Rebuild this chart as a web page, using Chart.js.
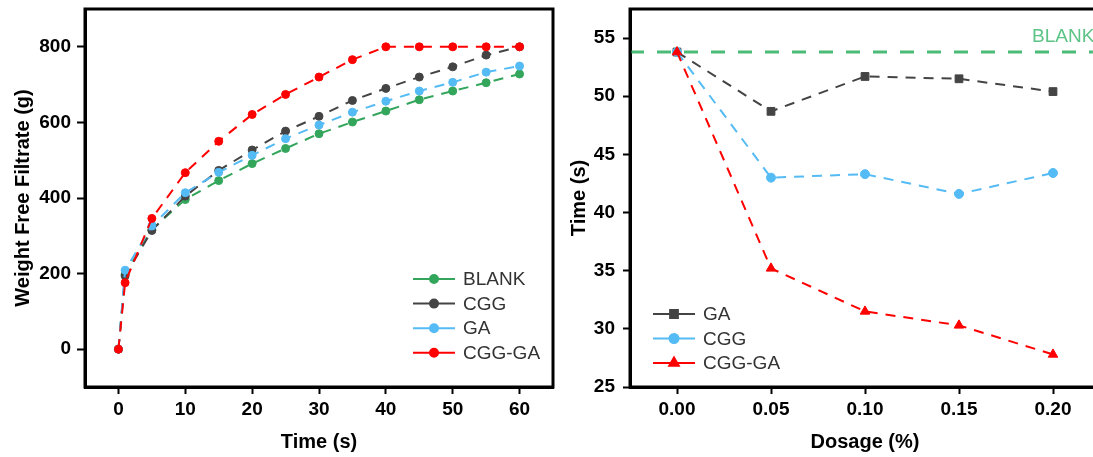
<!DOCTYPE html>
<html lang="en">
<head>
<meta charset="UTF-8">
<title>Filtration charts</title>
<script src="https://cdn.jsdelivr.net/npm/chart.js"></script>
<style>
  html, body { margin: 0; padding: 0; background: #fff; overflow: hidden; }
  #wrap { position: relative; width: 1093px; height: 457px; overflow: hidden; }
  .box { position: absolute; top: 0; height: 457px; }
  #leftBox { left: 0; width: 565px; }
  #rightBox { left: 565px; width: 545px; }
</style>
</head>
<body>
<div id="wrap">
  <div class="box" id="leftBox"><canvas id="filtrateChart"></canvas></div>
  <div class="box" id="rightBox"><canvas id="timeChart"></canvas></div>
</div>
<script>
// left panel: filtrate mass vs time
const timeS = [0, 1, 5, 10, 15, 20, 25, 30, 35, 40, 45, 50, 55, 60];
const blankMass = [0, 198, 317, 396, 446, 491, 531, 570, 601, 630, 660, 683, 705, 728];
const cggMass = [0, 194, 314, 405, 473, 527, 577, 616, 658, 690, 720, 747, 778, 800];
const gaMass = [0, 209, 326, 414, 468, 513, 557, 593, 627, 656, 683, 706, 733, 749];
const cggGaMass = [0, 176, 346, 467, 550, 621, 674, 720, 766, 800, 800, 800, 800, 800];
const massTicks = [0, 200, 400, 600, 800];
const timeTicks = [0, 10, 20, 30, 40, 50, 60];

// right panel: filtration time vs dosage
const dosage = [0, 0.05, 0.10, 0.15, 0.20];
const gaTime = [53.8, 48.7, 51.7, 51.5, 50.4];
const cggTime = [53.8, 43.0, 43.3, 41.6, 43.4];
const cggGaTime = [53.8, 35.2, 31.5, 30.3, 27.8];
const blankTime = 53.8;
const timeAxisTicks = [25, 30, 35, 40, 45, 50, 55];
const dosageTicks = [0, 0.05, 0.10, 0.15, 0.20];

const FONT = '"Liberation Sans", Arial, sans-serif';
const tickFont = { family: FONT, size: 19, weight: 'bold' };
const titleFont = { family: FONT, size: 20, weight: 'bold' };

function pairs(xs, ys) {
  return xs.map((x, i) => ({ x: x, y: ys[i] }));
}

// thick black frame round the plot area
const framePlugin = {
  id: 'frame',
  afterDraw(chart) {
    const a = chart.chartArea, ctx = chart.ctx;
    ctx.save();
    ctx.strokeStyle = '#000';
    ctx.lineWidth = 3;
    ctx.strokeRect(a.left, a.top, a.right - a.left, a.bottom - a.top);
    ctx.restore();
  }
};

// legend drawn inside the plot area, Origin style
const innerLegend = {
  id: 'innerLegend',
  afterDatasetsDraw(chart, args, opts) {
    const ctx = chart.ctx;
    ctx.save();
    chart.data.datasets.forEach((ds, i) => {
      const y = opts.y + i * opts.gap;
      ctx.setLineDash([]);
      ctx.strokeStyle = ds.borderColor;
      ctx.lineWidth = 2;
      ctx.beginPath();
      ctx.moveTo(opts.x, y);
      ctx.lineTo(opts.x + 42, y);
      ctx.stroke();
      ctx.fillStyle = ds.borderColor;
      Chart.helpers.drawPoint(ctx, {
        pointStyle: ds.pointStyle, rotation: 0,
        radius: ds.pointRadius, borderWidth: 1
      }, opts.x + 21, y);
      ctx.fillStyle = '#333';
      ctx.font = '19px ' + FONT;
      ctx.textBaseline = 'middle';
      ctx.textAlign = 'left';
      ctx.fillText(ds.label, opts.x + 50, y + 1);
    });
    ctx.restore();
  }
};

// horizontal reference line for the blank sample
const blankLine = {
  id: 'blankLine',
  beforeDatasetsDraw(chart) {
    const a = chart.chartArea, ctx = chart.ctx;
    const y = chart.scales.y.getPixelForValue(blankTime);
    ctx.save();
    ctx.strokeStyle = '#4cbb78';
    ctx.lineWidth = 3;
    ctx.setLineDash([14, 13]);
    ctx.beginPath();
    ctx.moveTo(a.left, y);
    ctx.lineTo(a.right, y);
    ctx.stroke();
    ctx.fillStyle = '#5cc486';
    ctx.font = '19px ' + FONT;
    ctx.textBaseline = 'alphabetic';
    ctx.fillText('BLANK', a.right - 68, y - 10);
    ctx.restore();
  }
};

function axis(min, max, ticks, fmt, size, title, tickLen, pad, titlePad, horizontal) {
  return {
    type: 'linear', min: min, max: max,
    afterBuildTicks: s => { s.ticks = ticks.map(v => ({ value: v })); },
    afterFit: s => {
      if (horizontal) {
        s.height = size;
        s.paddingLeft = 0; s.paddingRight = 0;
      } else {
        s.width = size;
        s.paddingTop = 0; s.paddingBottom = 0;
      }
    },
    grid: { drawOnChartArea: false, tickLength: tickLen, tickWidth: 2, tickColor: '#000' },
    border: { color: '#000', width: 3 },
    ticks: { color: '#000', font: tickFont, padding: pad, maxRotation: 0, callback: fmt },
    title: { display: true, text: title, color: '#000', font: titleFont, padding: titlePad }
  };
}

function line(label, color, data, style, radius, dash, order) {
  return {
    label: label, data: data, borderColor: color, backgroundColor: color,
    borderWidth: 2, borderDash: dash, pointStyle: style, pointRadius: radius,
    pointBorderWidth: 1, pointBorderColor: color, tension: 0, order: order
  };
}

new Chart(document.getElementById('filtrateChart'), {
  type: 'line',
  data: {
    datasets: [
      line('BLANK', '#33a65c', pairs(timeS, blankMass), 'circle', 4, [10, 8], 3),
      line('CGG', '#444444', pairs(timeS, cggMass), 'circle', 4, [10, 8], 2),
      line('GA', '#55bbf5', pairs(timeS, gaMass), 'circle', 4, [10, 8], 1),
      line('CGG-GA', '#ff0000', pairs(timeS, cggGaMass), 'circle', 4, [10, 8], 0)
    ]
  },
  options: {
    responsive: true, maintainAspectRatio: false, animation: false,
    layout: { padding: { top: 9, right: 12, left: 0, bottom: 0 } },
    scales: {
      x: axis(-5, 65, timeTicks, v => String(v), 70, 'Time (s)', 7, 4, { top: 0, bottom: 3 }, true),
      y: axis(-100, 900, massTicks, v => String(v), 85, 'Weight Free Filtrate (g)', 8, 6, { top: 11, bottom: 0 }, false)
    },
    plugins: {
      legend: { display: false },
      tooltip: { enabled: false },
      innerLegend: { x: 413, y: 279, gap: 24.6 }
    }
  },
  plugins: [framePlugin, innerLegend]
});

new Chart(document.getElementById('timeChart'), {
  type: 'line',
  data: {
    datasets: [
      line('GA', '#444444', pairs(dosage, gaTime), 'rect', 5.5, [10, 8], 2),
      line('CGG', '#55bbf5', pairs(dosage, cggTime), 'circle', 4.5, [10, 8], 1),
      line('CGG-GA', '#ff0000', pairs(dosage, cggGaTime), 'triangle', 5.5, [10, 8], 0)
    ]
  },
  options: {
    responsive: true, maintainAspectRatio: false, animation: false,
    layout: { padding: { top: 9, right: 10, left: 0, bottom: 0 } },
    scales: {
      x: axis(-0.025, 0.225, dosageTicks, v => v.toFixed(2), 70, 'Dosage (%)', 7, 4, { top: 0, bottom: 3 }, true),
      y: axis(25, 57.5, timeAxisTicks, v => String(v), 65, 'Time (s)', 7, 8, { top: 2, bottom: 0 }, false)
    },
    plugins: {
      legend: { display: false },
      tooltip: { enabled: false },
      innerLegend: { x: 88, y: 314, gap: 24.5 }
    }
  },
  plugins: [framePlugin, innerLegend, blankLine]
});
</script>
</body>
</html>
